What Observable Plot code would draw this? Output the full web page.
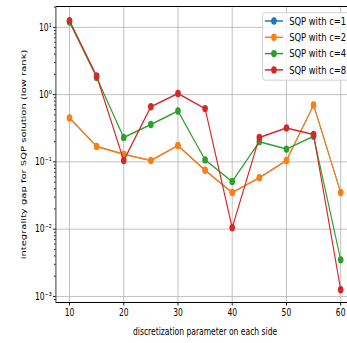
<!DOCTYPE html>
<html><head><meta charset="utf-8">
<script src="https://cdn.jsdelivr.net/npm/d3@7"></script>
<script src="https://cdn.jsdelivr.net/npm/@observablehq/plot@0.6"></script>
<style>
html,body{margin:0;padding:0;background:#fff;overflow:hidden}
#wrap{width:347px;height:343px;overflow:hidden;position:relative}
#chart{width:456px;height:343px;transform:scaleX(0.761);transform-origin:0 0}
#chart svg{max-width:none !important;display:block}
</style></head><body><div id="wrap"><div id="chart"></div></div>
<script>
const xs = [10, 15, 20, 25, 30, 35, 40, 45, 50, 55, 60];
const seriesNames = ["SQP with c=1", "SQP with c=2", "SQP with c=4", "SQP with c=8"];
const c1 = [0.45, 0.17, 0.13, 0.105, 0.175, 0.075, 0.035, 0.058, 0.105, 0.7, 0.035];
const c2 = [0.45, 0.17, 0.13, 0.105, 0.175, 0.075, 0.035, 0.058, 0.105, 0.7, 0.035];
const c4 = [12.0, 1.8, 0.23, 0.36, 0.57, 0.107, 0.051, 0.2, 0.155, 0.24, 0.0035];
const c8 = [12.6, 1.9, 0.105, 0.66, 1.04, 0.62, 0.0105, 0.23, 0.32, 0.255, 0.00126];
const colors = ["#1f77b4", "#ff7f0e", "#2ca02c", "#d62728"];
const xTicks = [10, 20, 30, 40, 50, 60];
const yMajor = [1e-3, 1e-2, 1e-1, 1, 10];
const yMajorLabels = ["10⁻³", "10⁻²", "10⁻¹", "10⁰", "10¹"];
const xLabel = "discretization parameter on each side";
const yLabel = "integrality gap for SQP solution (low rank)";

const allSeries = [c1, c2, c4, c8];
const yDomain = [Math.pow(10, -3.09), Math.pow(10, 1.31)];
const minors = [];
for (let k = -4; k <= 1; k++) for (let m = 2; m <= 9; m++) {
  const v = m * Math.pow(10, k);
  if (v > yDomain[0] && v < yDomain[1]) minors.push(v);
}
const seriesMarks = allSeries.flatMap((vals, i) => {
  const d = xs.map((x, j) => ({x, y: vals[j], series: seriesNames[i]}));
  const hidden = i === 0; // c=1 lies exactly under c=2
  return [
    Plot.line(d, {x: "x", y: "y", stroke: colors[i], strokeWidth: hidden ? 1.1 : 1.5}),
    Plot.dot(d, {x: "x", y: "y", fill: colors[i], r: hidden ? 3.2 : 3.7})
  ];
});
const W = 456;
const plot = Plot.plot({
  width: W, height: 343,
  marginLeft: 73, marginRight: -9, marginTop: 6, marginBottom: 41,
  style: {fontFamily: "DejaVu Sans", fontSize: "10px", background: "#fff", color: "#000"},
  x: {domain: [7.5, 62.5]},
  y: {type: "log", domain: yDomain},
  marks: [
    Plot.gridX(xTicks, {stroke: "#b0b0b0", strokeOpacity: 1, strokeWidth: 0.9}),
    Plot.gridY(yMajor, {stroke: "#b0b0b0", strokeOpacity: 1, strokeWidth: 0.9}),
    ...seriesMarks,
    Plot.frame({stroke: "#000", strokeWidth: 1}),
    Plot.axisX(xTicks, {tickSize: 3.5, tickPadding: 3, fontSize: 10,
      label: xLabel, labelAnchor: "center", labelArrow: "none", labelOffset: 32}),
    Plot.axisY(yMajor, {tickSize: 3.5, tickPadding: 2, fontSize: 10,
      tickFormat: d => yMajorLabels[yMajor.indexOf(d)],
      label: yLabel, labelAnchor: "center", labelArrow: "none", labelOffset: 46}),
    Plot.axisY(minors, {tickSize: 2, tickFormat: () => "", label: null})
  ]
});
document.getElementById("chart").appendChild(plot);

// legend
const svg = d3.select(plot);
const lg = svg.append("g").attr("font-family", "DejaVu Sans").attr("font-size", 11)
  .attr("text-anchor", "start");
lg.append("rect").attr("x", 345).attr("y", 12.7).attr("width", 130).attr("height", 67.5)
  .attr("rx", 3).attr("fill", "#fff").attr("fill-opacity", 0.8).attr("stroke", "#cccccc");
seriesNames.forEach((name, i) => {
  const yy = 21 + i * 16.3;
  lg.append("line").attr("x1", 348).attr("x2", 372).attr("y1", yy).attr("y2", yy)
    .attr("stroke", colors[i]).attr("stroke-width", 1.5);
  lg.append("circle").attr("cx", 360).attr("cy", yy).attr("r", 3.7).attr("fill", colors[i]);
  lg.append("text").attr("x", 380).attr("y", yy).attr("dy", "0.35em").attr("fill", "#000").text(name);
});
</script></body></html>
